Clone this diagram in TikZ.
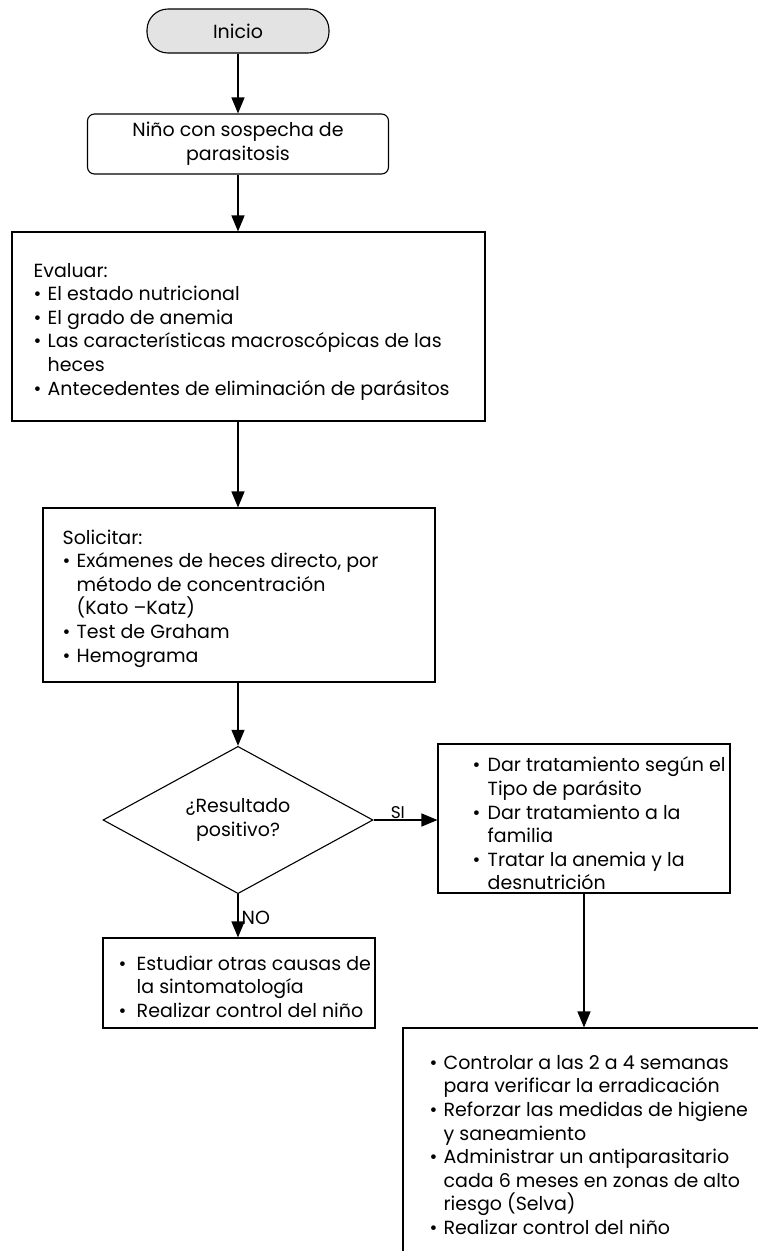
\documentclass[tikz,border=0pt]{standalone}
\usepackage{fontspec}
\setmainfont{Poppins}
\usetikzlibrary{positioning,arrows.meta,shapes.geometric}
\tikzset{terminal/.style={draw,line width=1.1pt,fill=gray!22,rounded corners=21pt,minimum width=182pt,minimum height=44pt}}
\tikzset{rbox/.style={draw,line width=1.1pt,rounded corners=7pt,align=center}}
\tikzset{box/.style={draw,line width=1.1pt,inner sep=0pt}}
\tikzset{txt/.style={align=left,anchor=west,inner sep=0pt}}
\tikzset{decision/.style={draw,diamond,line width=1.1pt,inner sep=0pt,align=center}}
\tikzset{flow/.style={line width=1.3pt,-{Triangle[width=13pt,length=16pt]}}}
\newcommand{\itm}[1][14pt]{\makebox[#1][l]{\textbullet}}
\newcommand{\cnt}[1][14pt]{\hspace*{#1}}

\begin{document}
\begin{tikzpicture}[x=1pt,y=-1pt,font=\fontsize{19}{23.6}\selectfont]
  \useasboundingbox (0,0) rectangle (758,1251);

  % Main column
  \node[terminal] (inicio) at (238,31) {Inicio};
  \node[rbox,minimum width=301pt,minimum height=60pt] (nino) at (238,144) {Niño con sospecha de\\parasitosis};

  \node[box,minimum width=473pt,minimum height=189pt] (eval) at (248.5,326.5) {};
  \node[txt] (evaltxt) at ([xshift=22pt,yshift=-5pt]eval.west) {Evaluar:\\
    \itm El estado nutricional\\
    \itm El grado de anemia\\
    \itm Las características macroscópicas de las\\
    \cnt heces\\
    \itm Antecedentes de eliminación de parásitos};

  \node[box,minimum width=392pt,minimum height=174pt] (soli) at (239,595) {};
  \node[txt] (solitxt) at ([xshift=20pt,yshift=-3.5pt]soli.west) {Solicitar:\\
    \itm Exámenes de heces directo, por\\
    \cnt método de concentración\\
    \cnt (Kato --Katz)\\
    \itm Test de Graham\\
    \itm Hemograma};

  \node[decision,minimum width=270pt,minimum height=91pt] (resul) at (238,820) {¿Resultado\\positivo?};

  % Branches
  \node[box,minimum width=292pt,minimum height=149pt] (trata) at (584,818.5) {};
  \node[txt] (tratatxt) at ([xshift=35pt,yshift=-5pt]trata.west) {\itm[10pt] Dar tratamiento según el\\
    \cnt[10pt] Tipo de parásito\\
    \itm[10pt] Dar tratamiento a la\\
    \cnt[10pt] familia\\
    \itm[10pt] Tratar la anemia y la\\
    \cnt[10pt] desnutrición};

  \node[box,minimum width=272pt,minimum height=90pt] (otras) at (239,983) {};
  \node[txt] (otrastxt) at ([xshift=16pt,yshift=-3.5pt]otras.west) {\itm[13pt] Estudiar otras causas de\\
    \cnt[13pt] la sintomatología\\
    \itm[13pt] Realizar control del niño};

  \node[box,minimum width=372pt,minimum height=234pt] (ctrl) at (589,1145) {};
  \node[txt] (ctrltxt) at ([xshift=27pt]ctrl.west) {\itm Controlar a las 2 a 4 semanas\\
    \cnt para verificar la erradicación\\
    \itm Reforzar las medidas de higiene\\
    \cnt y saneamiento\\
    \itm Administrar un antiparasitario\\
    \cnt cada 6 meses en zonas de alto\\
    \cnt riesgo (Selva)\\
    \itm Realizar control del niño};

  % Connectors
  \draw[flow] (inicio) -- (nino);
  \draw[flow] (nino) -- (nino.south |- eval.north);
  \draw[flow] (nino.south |- eval.south) -- (nino.south |- soli.north);
  \draw[flow] (soli.south -| resul.north) -- (resul);
  \draw[flow] (resul) -- node[pos=0.38,anchor=south,inner sep=1pt,font=\fontsize{17}{20}\selectfont]{SI} (resul.east -| trata.west);
  \draw[flow] (resul) -- node[right,pos=0.54,inner sep=3pt]{NO} (resul.south |- otras.north);
  \draw[flow] (trata) -- (trata.south |- ctrl.north);

\end{tikzpicture}
\end{document}
